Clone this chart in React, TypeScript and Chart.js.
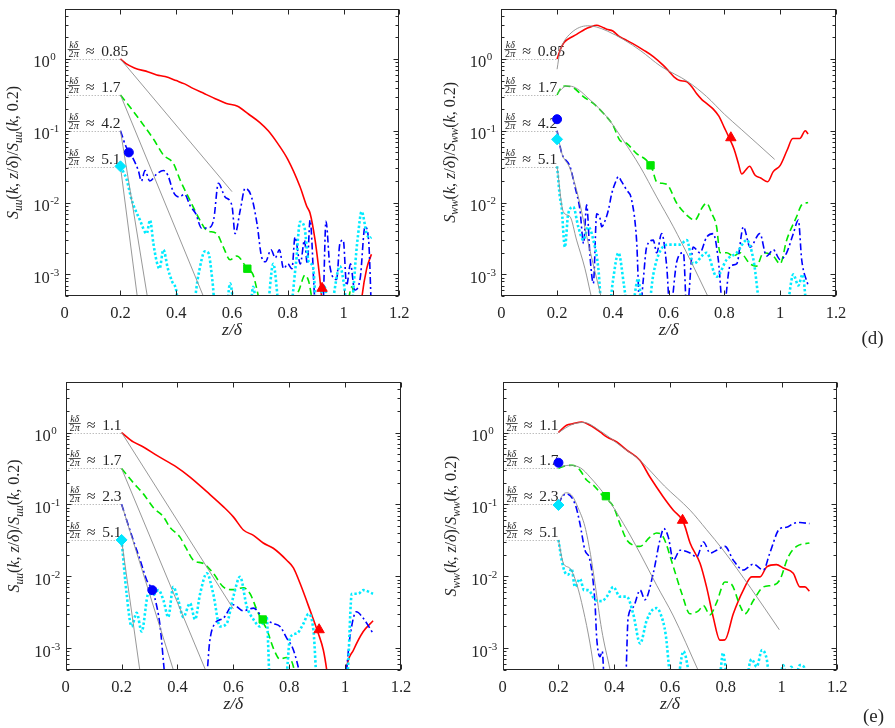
import React, { useEffect, useRef } from 'react';
import { Chart, registerables } from 'chart.js';
Chart.register(...registerables);

type Pt = [number, number];

// ---------- axes ----------
const zTicks = [0, 0.2, 0.4, 0.6, 0.8, 1, 1.2];
const zTickLabels = ['0', '0.2', '0.4', '0.6', '0.8', '1', '1.2'];
const yDecades = [-3, -2, -1, 0];
const yMin = 5e-4;
const yMax = 5;
const levelValues = [1, 0.316, 0.1, 0.0316];
const labelsD = ['0.85', '1.7', '4.2', '5.1'];
const labelsE = ['1.1', '1.7', '2.3', '5.1'];

// ---------- panel (d) S_uu ----------
const dUuRed: Pt[] = [[0.2,1.0],[0.22,0.86],[0.25,0.75],[0.3,0.66],[0.33,0.6],[0.36,0.57],[0.4,0.5],[0.43,0.45],[0.46,0.39],[0.5,0.33],[0.54,0.28],[0.58,0.24],[0.62,0.22],[0.66,0.17],[0.7,0.13],[0.73,0.1],[0.76,0.07],[0.8,0.04],[0.844,0.0166],[0.868,0.0089],[0.88,0.0071],[0.898,0.003],[0.91,0.0013],[0.918,6.7e-4],[0.93,2e-4],[0.95,1e-4],[1.05,1e-4],[1.065,4.5e-4],[1.083,0.0012],[1.1,0.0019]];
const dUuGreen: Pt[] = [[0.2,0.316],[0.24,0.2],[0.27,0.14],[0.32,0.075],[0.354,0.046],[0.39,0.035],[0.414,0.0206],[0.449,0.0108],[0.485,0.0057],[0.509,0.0041],[0.545,0.0037],[0.569,0.0024],[0.593,0.0016],[0.617,0.0018],[0.655,0.0012],[0.675,0.001],[0.69,6e-4],[0.71,2.5e-4],[0.74,2e-4],[0.78,3e-4],[0.8,5e-4],[0.82,4.5e-4],[0.84,6e-4],[0.862,9.8e-4],[0.875,8e-4],[0.89,4e-4],[0.92,2e-4],[1.0,2e-4],[1.03,6.7e-4],[1.045,3e-4],[1.06,2e-4]];
const dUuBlue: Pt[] = [[0.2,0.1],[0.22,0.06],[0.24,0.045],[0.264,0.028],[0.275,0.02],[0.288,0.028],[0.305,0.02],[0.33,0.025],[0.354,0.028],[0.37,0.024],[0.39,0.014],[0.41,0.012],[0.43,0.013],[0.45,0.009],[0.47,0.007],[0.491,0.0044],[0.52,0.0045],[0.535,0.006],[0.551,0.0186],[0.575,0.012],[0.6,0.009],[0.611,0.0037],[0.63,0.008],[0.647,0.0158],[0.67,0.012],[0.69,0.005],[0.706,0.00176],[0.72,0.0015],[0.74,0.0022],[0.755,0.0017],[0.77,0.0022],[0.785,0.0012],[0.8,0.0014],[0.815,0.0012],[0.826,0.0033],[0.845,0.0014],[0.86,0.003],[0.87,0.0014],[0.88,0.0057],[0.898,4e-4],[0.91,3e-4],[0.925,3e-4],[0.937,0.0055],[0.951,0.0013],[0.975,8.5e-4],[0.987,0.0027],[0.999,0.003],[1.011,7e-4],[1.025,0.0014],[1.04,6e-4],[1.06,9e-4],[1.077,0.0046],[1.09,0.003],[1.1,3e-4]];
const dUuCyan: Pt[] = [[0.2,0.032],[0.222,0.021],[0.24,0.011],[0.27,0.0057],[0.294,0.0037],[0.306,0.0057],[0.318,0.0027],[0.33,0.0015],[0.34,0.0012],[0.354,0.0022],[0.37,0.0012],[0.385,8e-4],[0.4,6e-4],[0.41,3e-4],[0.45,2e-4],[0.48,0.001],[0.503,0.0021],[0.515,0.002],[0.53,8e-4],[0.545,2e-4],[0.58,3e-4],[0.593,7.5e-4],[0.61,3e-4],[0.66,2e-4],[0.676,6.7e-4],[0.69,3e-4],[0.72,2e-4],[0.748,0.0014],[0.77,3e-4],[0.8,2e-4],[0.83,0.0015],[0.844,0.0054],[0.86,0.0045],[0.875,0.0015],[0.89,0.0013],[0.905,3e-4],[0.93,7e-4],[0.95,3e-4],[0.987,0.0013],[1.0,8e-4],[1.02,2e-4],[1.05,0.003],[1.065,0.0075],[1.083,0.0037],[1.095,0.0032],[1.1,0.0033]];
const dUuFit1: Pt[] = [[0.2,1.0],[0.6,0.0142]];
const dUuFit2: Pt[] = [[0.2,0.316],[0.497,5e-4]];
const dUuFit3: Pt[] = [[0.2,0.1],[0.296,5e-4]];
const dUuFit4: Pt[] = [[0.2,0.0316],[0.26,5e-4]];
const dUuMarks: Pt[] = [[0.23,0.05],[0.2,0.032],[0.655,0.0012],[0.923,6.4e-4]];

// ---------- panel (d) S_ww ----------
const dWwRed: Pt[] = [[0.2,1.0],[0.215,1.45],[0.225,1.7],[0.24,1.9],[0.27,2.2],[0.3,2.6],[0.32,2.8],[0.342,2.95],[0.36,2.8],[0.378,2.6],[0.4,2.45],[0.42,2.1],[0.44,1.9],[0.47,1.65],[0.51,1.33],[0.545,1.08],[0.58,0.82],[0.6,0.68],[0.62,0.56],[0.64,0.5],[0.665,0.48],[0.685,0.4],[0.7,0.33],[0.72,0.27],[0.736,0.24],[0.76,0.2],[0.78,0.16],[0.8,0.11],[0.82,0.075],[0.835,0.055],[0.85,0.035],[0.862,0.025],[0.875,0.028],[0.89,0.032],[0.91,0.024],[0.93,0.022],[0.955,0.0195],[0.975,0.027],[1.0,0.033],[1.025,0.054],[1.045,0.078],[1.07,0.078],[1.09,0.1],[1.1,0.09]];
const dWwGreen: Pt[] = [[0.2,0.316],[0.215,0.4],[0.23,0.42],[0.258,0.4],[0.294,0.3],[0.33,0.24],[0.366,0.175],[0.4,0.12],[0.425,0.074],[0.449,0.067],[0.485,0.048],[0.52,0.039],[0.54,0.03],[0.557,0.0195],[0.593,0.018],[0.629,0.0098],[0.665,0.0067],[0.694,0.0057],[0.72,0.0085],[0.736,0.0098],[0.755,0.007],[0.772,0.0046],[0.784,0.002],[0.808,0.002],[0.832,0.0018],[0.856,0.002],[0.892,0.0014],[0.915,0.0013],[0.94,0.002],[0.975,0.0018],[1.0,0.0014],[1.023,0.003],[1.059,0.0064],[1.077,0.0093],[1.1,0.01]];
const dWwBlue: Pt[] = [[0.2,0.1],[0.2165,0.049],[0.246,0.032],[0.264,0.0167],[0.282,0.0079],[0.295,0.0027],[0.306,0.0093],[0.318,0.0018],[0.33,7.5e-4],[0.342,0.007],[0.354,0.006],[0.36,0.0046],[0.372,0.0056],[0.384,0.0079],[0.396,0.0134],[0.408,0.0186],[0.42,0.023],[0.431,0.0197],[0.449,0.015],[0.467,0.011],[0.485,0.003],[0.497,3e-4],[0.509,8.4e-4],[0.521,0.0024],[0.545,0.003],[0.557,0.002],[0.575,0.0037],[0.593,0.0013],[0.605,3e-4],[0.629,0.0015],[0.653,0.002],[0.665,3e-4],[0.688,0.0024],[0.712,0.002],[0.736,0.0033],[0.76,0.0037],[0.778,0.0016],[0.796,3e-4],[0.82,0.0013],[0.844,0.0014],[0.868,0.0046],[0.892,0.0024],[0.927,0.0037],[0.951,0.0018],[0.975,0.0022],[1.0,0.0016],[1.023,0.002],[1.047,0.0037],[1.065,0.0057],[1.077,0.0016],[1.1,7e-4]];
const dWwCyan: Pt[] = [[0.2,0.032],[0.21,0.012],[0.216,0.0087],[0.228,0.0024],[0.24,0.007],[0.258,0.0087],[0.276,0.0046],[0.294,0.003],[0.312,0.0046],[0.33,0.003],[0.348,0.0012],[0.36,3e-4],[0.38,2e-4],[0.4,8e-4],[0.42,0.002],[0.44,7e-4],[0.46,2e-4],[0.491,8.7e-4],[0.505,3e-4],[0.52,2e-4],[0.545,0.001],[0.569,0.0021],[0.6,0.0026],[0.64,0.0026],[0.665,0.003],[0.688,0.0014],[0.736,0.002],[0.772,9.3e-4],[0.808,0.0016],[0.844,0.002],[0.88,0.003],[0.904,0.0016],[0.93,3e-4],[0.97,2e-4],[1.0,5e-4],[1.02,3e-4],[1.047,0.001],[1.065,7e-4],[1.08,0.001],[1.095,3e-4]];
const dWwFit1: Pt[] = [[0.2,0.72],[0.21,1.25],[0.225,1.75],[0.25,2.3],[0.28,2.75],[0.31,2.9],[0.34,2.8],[0.38,2.45],[0.44,1.85],[0.5,1.3],[0.57,0.8],[0.67,0.48],[0.736,0.3],[0.8,0.17],[0.86,0.105],[0.92,0.065],[0.98,0.04]];
const dWwFit2: Pt[] = [[0.2,0.33],[0.234,0.42],[0.258,0.41],[0.318,0.27],[0.378,0.157],[0.437,0.074],[0.497,0.032],[0.557,0.012],[0.617,0.0046],[0.677,0.0016],[0.74,5e-4]];
const dWwFit3: Pt[] = [[0.2,0.1],[0.216,0.05],[0.246,0.03],[0.276,0.012],[0.312,0.0027],[0.357,5e-4]];
const dWwFit4: Pt[] = [[0.2,0.032],[0.222,0.0075],[0.246,0.0064],[0.27,0.003],[0.3,0.0012],[0.322,5e-4]];
const dWwMarks: Pt[] = [[0.2,0.145],[0.2,0.076],[0.535,0.033],[0.823,0.08]];

// ---------- panel (e) S_uu ----------
const eUuRed: Pt[] = [[0.2,1.0],[0.242,0.74],[0.278,0.63],[0.326,0.48],[0.397,0.33],[0.445,0.24],[0.505,0.15],[0.564,0.093],[0.6,0.067],[0.636,0.044],[0.672,0.037],[0.707,0.029],[0.743,0.0245],[0.791,0.0167],[0.815,0.0131],[0.839,0.0079],[0.874,0.0034],[0.904,0.0016],[0.922,9.4e-4],[0.934,5e-4],[0.95,1.5e-4],[0.99,1.5e-4],[1.006,5.5e-4],[1.03,9.4e-4],[1.065,0.0017],[1.1,0.0024]];
const eUuGreen: Pt[] = [[0.2,0.316],[0.242,0.2],[0.278,0.14],[0.314,0.09],[0.35,0.067],[0.373,0.048],[0.409,0.035],[0.43,0.025],[0.457,0.0167],[0.493,0.015],[0.528,0.011],[0.564,0.0071],[0.6,0.0065],[0.636,0.0069],[0.66,0.0057],[0.684,0.0034],[0.7,0.0025],[0.72,0.0018],[0.743,0.001],[0.767,7e-4],[0.79,7.4e-4],[0.815,5.5e-4],[0.83,2e-4]];
const eUuBlue: Pt[] = [[0.2,0.1],[0.242,0.0315],[0.266,0.017],[0.29,0.0088],[0.31,0.0064],[0.326,0.0038],[0.338,0.002],[0.355,4e-4],[0.37,1.5e-4],[0.49,1.5e-4],[0.505,4e-4],[0.515,0.0012],[0.534,0.0022],[0.564,0.0026],[0.6,0.004],[0.636,0.0033],[0.672,0.0036],[0.707,0.0026],[0.743,0.0022],[0.767,0.002],[0.79,0.0014],[0.815,9.4e-4],[0.84,4e-4],[0.86,1.5e-4],[0.99,1.5e-4],[1.006,5.5e-4],[1.017,0.0014],[1.04,0.0032],[1.065,0.0026],[1.1,0.0016]];
const eUuCyan: Pt[] = [[0.2,0.032],[0.218,0.0057],[0.236,0.002],[0.254,0.0031],[0.272,0.0017],[0.296,0.0057],[0.314,0.0055],[0.332,0.0064],[0.35,0.0046],[0.367,0.0027],[0.385,0.0071],[0.403,0.0046],[0.421,0.0027],[0.445,0.0042],[0.463,0.0025],[0.481,0.0057],[0.505,0.011],[0.528,0.0057],[0.552,0.002],[0.576,0.0022],[0.6,0.0052],[0.624,0.0098],[0.648,0.0038],[0.672,0.0025],[0.695,0.002],[0.719,0.0027],[0.731,3e-4],[0.76,1.5e-4],[0.79,4e-4],[0.803,0.0014],[0.827,0.0016],[0.851,0.0022],[0.869,0.003],[0.887,0.0017],[0.9,3e-4],[0.95,1.5e-4],[1.0,1.5e-4],[1.01,5e-4],[1.024,0.0057],[1.047,0.0057],[1.065,0.0064],[1.1,0.0057]];
const eUuFit1: Pt[] = [[0.2,1.0],[0.6,0.0035]];
const eUuFit2: Pt[] = [[0.2,0.316],[0.5,5e-4]];
const eUuFit3: Pt[] = [[0.2,0.1],[0.385,5e-4]];
const eUuFit4: Pt[] = [[0.2,0.0316],[0.265,5e-4]];
const eUuMarks: Pt[] = [[0.31,0.0064],[0.2,0.032],[0.705,0.0025],[0.907,0.0018]];

// ---------- panel (e) S_ww ----------
const eWwRed: Pt[] = [[0.2,1.0],[0.229,1.26],[0.253,1.33],[0.283,1.4],[0.313,1.26],[0.349,1.02],[0.373,0.87],[0.409,0.74],[0.445,0.57],[0.492,0.41],[0.528,0.24],[0.576,0.127],[0.612,0.083],[0.645,0.06],[0.654,0.049],[0.672,0.029],[0.708,0.015],[0.731,0.0071],[0.755,0.0027],[0.779,0.00129],[0.797,0.0013],[0.827,0.003],[0.863,0.0064],[0.893,0.0098],[0.923,0.0098],[0.947,0.0135],[0.982,0.0145],[1.006,0.013],[1.042,0.011],[1.066,0.0071],[1.084,0.0071],[1.1,0.0062]];
const eWwGreen: Pt[] = [[0.2,0.316],[0.22,0.34],[0.25,0.35],[0.277,0.3],[0.3,0.22],[0.325,0.185],[0.36,0.13],[0.397,0.093],[0.42,0.054],[0.445,0.032],[0.468,0.027],[0.492,0.026],[0.528,0.035],[0.552,0.04],[0.576,0.035],[0.612,0.0135],[0.642,0.0058],[0.672,0.003],[0.702,0.0033],[0.72,0.0039],[0.743,0.0029],[0.767,0.0043],[0.797,0.0083],[0.821,0.0077],[0.851,0.0039],[0.869,0.003],[0.899,0.0046],[0.935,0.0071],[0.97,0.0075],[0.994,0.0089],[1.024,0.0186],[1.054,0.026],[1.1,0.029]];
const eWwBlue: Pt[] = [[0.2,0.1],[0.213,0.127],[0.229,0.14],[0.26,0.1],[0.277,0.054],[0.295,0.023],[0.313,0.0167],[0.331,0.0042],[0.337,0.0014],[0.349,7.6e-4],[0.357,9e-4],[0.365,3e-4],[0.4,1.5e-4],[0.44,3e-4],[0.45,0.0027],[0.468,0.0037],[0.493,0.0064],[0.51,0.0047],[0.54,0.011],[0.564,0.032],[0.578,0.046],[0.594,0.035],[0.612,0.0167],[0.636,0.023],[0.672,0.021],[0.696,0.0186],[0.72,0.03],[0.744,0.021],[0.767,0.023],[0.797,0.026],[0.827,0.0167],[0.863,0.0122],[0.899,0.0147],[0.935,0.0122],[0.958,0.021],[0.994,0.046],[1.018,0.048],[1.042,0.054],[1.066,0.056],[1.1,0.054]];
const eWwCyan: Pt[] = [[0.2,0.032],[0.2115,0.0168],[0.225,0.011],[0.235,0.0105],[0.247,0.0128],[0.259,0.0071],[0.277,0.0092],[0.292,0.0064],[0.307,0.0064],[0.331,0.0047],[0.355,0.0045],[0.373,0.0052],[0.397,0.0071],[0.42,0.0052],[0.445,0.0052],[0.468,0.003],[0.493,0.00116],[0.516,0.0024],[0.54,0.0035],[0.552,0.0036],[0.566,0.003],[0.585,0.0015],[0.6,4e-4],[0.62,1.5e-4],[0.635,5e-4],[0.648,9e-4],[0.665,5e-4],[0.68,1.5e-4],[0.77,1.5e-4],[0.782,5e-4],[0.79,8.6e-4],[0.8,5e-4],[0.815,1.5e-4],[0.87,1.5e-4],[0.882,5e-4],[0.893,7e-4],[0.911,5.5e-4],[0.93,9.4e-4],[0.947,7e-4],[0.96,3e-4],[0.99,3e-4],[1.006,5.8e-4],[1.02,4e-4],[1.035,5.5e-4],[1.05,4e-4],[1.066,5.8e-4],[1.08,5.5e-4],[1.09,3e-4]];
const eWwFit1: Pt[] = [[0.2,1.0],[0.25,1.3],[0.29,1.38],[0.35,1.05],[0.43,0.62],[0.492,0.41],[0.58,0.18],[0.672,0.083],[0.73,0.045],[0.791,0.023],[0.89,0.0068],[0.992,0.0018]];
const eWwFit2: Pt[] = [[0.2,0.33],[0.24,0.35],[0.28,0.32],[0.313,0.24],[0.373,0.125],[0.433,0.054],[0.492,0.021],[0.552,0.0075],[0.612,0.0028],[0.7,5e-4]];
const eWwFit3: Pt[] = [[0.2,0.1],[0.215,0.135],[0.23,0.145],[0.25,0.13],[0.27,0.09],[0.295,0.049],[0.315,0.02],[0.331,0.0079],[0.355,0.0018],[0.385,5e-4]];
const eWwFit4: Pt[] = [[0.2,0.032],[0.218,0.015],[0.241,0.0129],[0.265,0.0079],[0.289,0.0034],[0.313,0.00117],[0.328,5e-4]];
const eWwMarks: Pt[] = [[0.2,0.38],[0.2,0.098],[0.37,0.13],[0.645,0.06]];

// ---------- styling ----------
const FONT = '"Liberation Serif", "Times New Roman", serif';
const TXT = '#262626';
const RED = '#ff0000';
const GREEN = 'rgb(0,230,0)';
const BLUE = '#0000ff';
const CYAN = 'rgb(0,235,255)';
const GRAY = 'rgb(140,140,140)';

interface Panel {
  area: { left: number; top: number; right: number; bottom: number };
  q: string;
  labels: string[];
  red: Pt[]; green: Pt[]; blue: Pt[]; cyan: Pt[];
  fits: Pt[][];
  marks: Pt[]; // circle, diamond, square, triangle
  tag?: { text: string; x: number; y: number };
}

const panels: Panel[] = [
  { area: { left: 64.7, top: 8.8, right: 399.3, bottom: 296 }, q: 'uu', labels: labelsD,
    red: dUuRed, green: dUuGreen, blue: dUuBlue, cyan: dUuCyan,
    fits: [dUuFit1, dUuFit2, dUuFit3, dUuFit4], marks: dUuMarks },
  { area: { left: 501.3, top: 8.8, right: 836, bottom: 296 }, q: 'ww', labels: labelsD,
    red: dWwRed, green: dWwGreen, blue: dWwBlue, cyan: dWwCyan,
    fits: [dWwFit1, dWwFit2, dWwFit3, dWwFit4], marks: dWwMarks,
    tag: { text: '(d)', x: 861.5, y: 344 } },
  { area: { left: 65.7, top: 382.3, right: 401, bottom: 669.7 }, q: 'uu', labels: labelsE,
    red: eUuRed, green: eUuGreen, blue: eUuBlue, cyan: eUuCyan,
    fits: [eUuFit1, eUuFit2, eUuFit3, eUuFit4], marks: eUuMarks },
  { area: { left: 502.7, top: 382.3, right: 837.3, bottom: 669.7 }, q: 'ww', labels: labelsE,
    red: eWwRed, green: eWwGreen, blue: eWwBlue, cyan: eWwCyan,
    fits: [eWwFit1, eWwFit2, eWwFit3, eWwFit4], marks: eWwMarks,
    tag: { text: '(e)', x: 863, y: 722 } },
];

const W = 895;
const H = 728;

function f(size: number, italic = false) {
  return `${italic ? 'italic ' : ''}${size}px ${FONT}`;
}
const toXY = (arr: Pt[]) => arr.map(([x, y]) => ({ x, y }));

function makePlugin(p: Panel) {
  return {
    id: 'matlabFrame',
    beforeDatasetsDraw(chart: any) {
      const { ctx, chartArea: a, scales } = chart;
      const xs = scales.x, ys = scales.y;
      ctx.save();
      const x1 = xs.getPixelForValue(0.2);
      levelValues.forEach((lv, i) => {
        const y = Math.round(ys.getPixelForValue(lv)) + 0.5;
        ctx.setLineDash([1, 2]);
        ctx.strokeStyle = '#a0a0a0';
        ctx.lineWidth = 1;
        ctx.beginPath();
        ctx.moveTo(a.left + 3, y);
        ctx.lineTo(x1, y);
        ctx.stroke();
        ctx.setLineDash([]);
        // fraction k delta / 2 pi
        const fx = a.left + 3;
        ctx.fillStyle = TXT;
        ctx.strokeStyle = TXT;
        ctx.lineWidth = 0.8;
        ctx.beginPath();
        ctx.moveTo(fx, y - 10);
        ctx.lineTo(fx + 12, y - 10);
        ctx.stroke();
        ctx.textAlign = 'center';
        ctx.textBaseline = 'alphabetic';
        ctx.font = f(10, true);
        ctx.fillText('k\u03B4', fx + 6, y - 11.5);
        ctx.font = f(10);
        ctx.fillText('2', fx + 3.3, y - 2.5);
        ctx.font = f(10, true);
        ctx.fillText('\u03C0', fx + 8.5, y - 2.5);
        ctx.textAlign = 'left';
        ctx.font = f(16);
        ctx.fillText('\u2248', a.left + 21, y - 4);
        ctx.font = f(15.5);
        ctx.fillText(p.labels[i], a.left + 36.5, y - 4);
      });
      ctx.restore();
    },
    afterDraw(chart: any) {
      const { ctx, chartArea: a, scales } = chart;
      const xs = scales.x, ys = scales.y;
      ctx.save();
      const L = Math.round(a.left) + 0.5, R = Math.round(a.right) - 0.5;
      const T = Math.round(a.top) + 0.5, B = Math.round(a.bottom) - 0.5;
      ctx.strokeStyle = TXT;
      ctx.lineWidth = 1;
      ctx.strokeRect(L, T, R - L, B - T);
      // x ticks
      ctx.beginPath();
      zTicks.forEach((v) => {
        const x = Math.round(xs.getPixelForValue(v)) + 0.5;
        ctx.moveTo(x, B); ctx.lineTo(x, B - 5);
        ctx.moveTo(x, T); ctx.lineTo(x, T + 5);
      });
      // y ticks incl. minor
      for (let n = -4; n <= 0; n++) {
        for (let m = 1; m <= 9; m++) {
          const v = m * Math.pow(10, n);
          if (v < yMin * 0.999 || v > yMax * 1.001) continue;
          const y = Math.round(ys.getPixelForValue(v)) + 0.5;
          const len = m === 1 ? 5 : 3;
          ctx.moveTo(L, y); ctx.lineTo(L + len, y);
          ctx.moveTo(R, y); ctx.lineTo(R - len, y);
        }
      }
      ctx.stroke();
      ctx.fillStyle = TXT;
      // x tick labels
      ctx.font = f(16.5);
      ctx.textAlign = 'center';
      ctx.textBaseline = 'alphabetic';
      zTicks.forEach((v, i) => {
        ctx.fillText(zTickLabels[i], xs.getPixelForValue(v), a.bottom + 22);
      });
      // y tick labels
      yDecades.forEach((n) => {
        const y = ys.getPixelForValue(Math.pow(10, n));
        ctx.font = f(16.5);
        ctx.textAlign = 'right';
        ctx.fillText('10', a.left - 15, y + 8.5);
        ctx.font = f(11);
        ctx.textAlign = 'left';
        ctx.fillText(n === 0 ? '0' : '-' + String(-n), a.left - 14.5, y + 1.5);
      });
      // x title
      ctx.font = f(17.5, true);
      ctx.textAlign = 'center';
      ctx.fillText('z/\u03B4', (a.left + a.right) / 2, a.bottom + 39);
      // y title
      const segs: [string, string][] = [
        ['S', 'i'], [p.q, 's'], ['(', 'n'], ['k', 'i'], [', ', 'n'], ['z', 'i'], ['/', 'n'], ['\u03B4', 'i'], [')/', 'n'],
        ['S', 'i'], [p.q, 's'], ['(', 'n'], ['k', 'i'], [', 0.2)', 'n'],
      ];
      const fontFor = (k: string) => (k === 'i' ? f(16, true) : k === 's' ? f(11.5, true) : f(16));
      let total = 0;
      const widths = segs.map(([t, k]) => { ctx.font = fontFor(k); const w = ctx.measureText(t).width; total += w; return w; });
      ctx.translate(a.left - 46.5, (a.top + a.bottom) / 2);
      ctx.rotate(-Math.PI / 2);
      ctx.textAlign = 'left';
      let x = -total / 2;
      segs.forEach(([t, k], i) => {
        ctx.font = fontFor(k);
        ctx.fillText(t, x, k === 's' ? 3.5 : 0);
        x += widths[i];
      });
      ctx.restore();
      if (p.tag) {
        ctx.save();
        ctx.fillStyle = TXT;
        ctx.font = f(19);
        ctx.textAlign = 'left';
        ctx.textBaseline = 'alphabetic';
        ctx.fillText(p.tag.text, p.tag.x, p.tag.y);
        ctx.restore();
      }
    },
  };
}

function lineDs(data: Pt[], color: string, width: number, dash: number[], order: number) {
  return {
    data: toXY(data),
    borderColor: color,
    backgroundColor: color,
    borderWidth: width,
    borderDash: dash,
    borderCapStyle: 'butt',
    pointRadius: 0,
    cubicInterpolationMode: 'monotone',
    fill: false,
    order,
  };
}

function markDs(pt: Pt, color: string, style: string, radius: number) {
  return {
    data: [{ x: pt[0], y: pt[1] }],
    showLine: false,
    pointStyle: style,
    pointRadius: radius,
    pointBackgroundColor: color,
    pointBorderColor: color,
    pointBorderWidth: 1,
    borderColor: color,
    backgroundColor: color,
    clip: false,
    order: 0,
  };
}

function PanelChart({ panel }: { panel: Panel }) {
  const ref = useRef<HTMLCanvasElement>(null);
  useEffect(() => {
    if (!ref.current) return;
    const a = panel.area;
    const datasets: any[] = [
      lineDs(panel.red, RED, 1.6, [], 5),
      lineDs(panel.green, GREEN, 1.6, [7, 4], 4),
      lineDs(panel.blue, BLUE, 1.6, [7, 3, 2, 3], 3),
      lineDs(panel.cyan, CYAN, 2.6, [2.4, 2.2], 2),
      ...panel.fits.map((fit) => lineDs(fit, GRAY, 0.9, [], 1)),
      markDs(panel.marks[0], BLUE, 'circle', 4.5),
      markDs(panel.marks[1], 'rgb(0,230,255)', 'rectRot', 5.5),
      markDs(panel.marks[2], GREEN, 'rect', 5.2),
      markDs(panel.marks[3], RED, 'triangle', 6),
    ];
    const chart = new Chart(ref.current, {
      type: 'line',
      data: { datasets },
      options: {
        responsive: false,
        animation: false,
        events: [],
        devicePixelRatio: 1,
        layout: { padding: { left: a.left, top: a.top, right: W - a.right, bottom: H - a.bottom } },
        plugins: { legend: { display: false }, tooltip: { enabled: false } },
        scales: {
          x: { type: 'linear', min: 0, max: 1.2, display: false },
          y: { type: 'logarithmic', min: yMin, max: yMax, display: false },
        },
      },
      plugins: [makePlugin(panel)],
    } as any);
    return () => chart.destroy();
  }, [panel]);
  return <canvas ref={ref} width={W} height={H} style={{ position: 'absolute', left: 0, top: 0 }} />;
}

export default function App() {
  return (
    <div style={{ position: 'fixed', left: 0, top: 0, width: W, height: H, overflow: 'hidden', background: '#fff' }}>
      {panels.map((p, i) => (
        <PanelChart key={i} panel={p} />
      ))}
    </div>
  );
}
